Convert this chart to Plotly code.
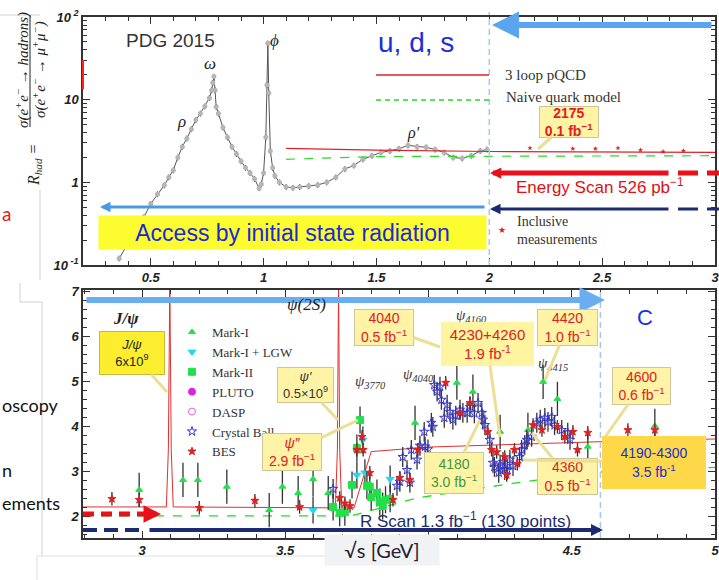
import plotly.graph_objects as go

W, H = 719, 580
SANS = "Liberation Sans, Arial, sans-serif"
SERIF = "Liberation Serif, Times New Roman, serif"
SLIDE = "Lato, Open Sans, sans-serif"

# ---------------- DATA: top panel (light-quark region) ----------------
top_sqrt_s = [0.36, 0.40, 0.44, 0.47, 0.50, 0.53, 0.56, 0.58, 0.60, 0.62, 0.64, 0.66, 0.68, 0.70,
              0.72, 0.74, 0.76, 0.770, 0.775, 0.780, 0.785, 0.79, 0.80, 0.82, 0.84, 0.86, 0.88,
              0.90, 0.92, 0.94, 0.96, 0.98, 0.99, 1.00, 1.010, 1.015, 1.019, 1.023, 1.03, 1.04,
              1.05, 1.07, 1.10, 1.13, 1.16, 1.20, 1.24, 1.28, 1.32, 1.36, 1.40, 1.44, 1.48, 1.52,
              1.56, 1.60, 1.64, 1.68, 1.72, 1.76, 1.80, 1.84, 1.88, 1.92, 1.96, 1.99]
top_R = [0.12, 0.18, 0.28, 0.38, 0.55, 0.72, 0.92, 1.15, 1.4, 2.0, 2.7, 3.4, 4.4, 5.7,
         6.8, 8.3, 10.5, 13, 16, 19, 13, 8.2, 6.8, 4.6, 3.5, 2.7, 2.2,
         1.8, 1.5, 1.3, 1.1, 0.85, 0.95, 1.3, 3.5, 15, 48, 12, 2.4, 1.5,
         1.2, 1.0, 0.88, 0.86, 0.88, 0.90, 0.93, 1.0, 1.15, 1.45, 1.6, 1.9, 2.1, 2.3,
         2.4, 2.55, 2.8, 2.7, 2.65, 2.5, 2.3, 2.0, 1.95, 2.1, 2.4, 2.5]

pqcd_sqrt_s = [1.1, 1.5, 2.0, 2.5, 3.0]
pqcd_R = [2.57, 2.45, 2.36, 2.33, 2.30]
naive_sqrt_s = [1.1, 1.5, 3.0]
naive_R = [1.90, 2.05, 2.10]
incl_sqrt_s = [2.18, 2.37, 2.47, 2.57, 2.67, 2.77, 2.86]
incl_R = [2.60, 2.55, 2.55, 2.60, 2.45, 2.35, 2.40]

# ---------------- DATA: bottom panel (charm region) ----------------
theory_sqrt_s = [2.794, 3.085, 3.092, 3.097, 3.102, 3.109, 3.675, 3.682, 3.686, 3.690, 3.697,
                 3.74, 3.80, 4.0, 4.6, 5.0]
theory_R = [2.22, 2.22, 3.5, 7.2, 3.5, 2.22, 2.20, 3.5, 7.2, 3.5, 2.20,
            2.20, 3.45, 3.55, 3.67, 3.73]
naiveb_sqrt_s = [2.794, 3.73, 3.96, 4.3, 4.6, 5.0]
naiveb_R = [2.02, 2.02, 2.42, 2.75, 3.0, 3.1]

markI_sqrt_s = [2.99, 3.143, 3.195, 3.296, 3.444, 3.49, 3.545, 3.597, 3.65, 3.953, 4.099,
                4.155, 4.25, 4.347, 4.40, 4.45, 4.556, 4.79]
markI_R = [2.60, 2.82, 2.82, 2.67, 2.15, 2.67, 2.53, 2.84, 2.53, 4.09, 4.98,
           4.78, 3.89, 3.93, 5.00, 4.62, 3.56, 4.02]
lgw_sqrt_s = [3.597, 3.750, 3.771, 3.778, 3.866]
lgw_R = [2.15, 2.93, 3.71, 2.98, 2.84]
markII_sqrt_s = [3.667, 3.69, 3.708, 3.733, 3.75, 3.761, 3.785, 3.795, 3.80, 3.82, 3.83,
                 3.84, 3.85, 3.866]
markII_R = [2.22, 2.09, 2.10, 2.71, 3.53, 4.15, 2.69, 2.67, 2.44, 2.53, 2.33,
            2.24, 2.38, 2.40]
pluto_sqrt_s = [None]   # no PLUTO point is visible in the picture
pluto_R = [None]
dasp_sqrt_s = [None]    # no DASP point is visible in the picture
dasp_R = [None]
cb_sqrt_s = [3.667, 3.89, 3.90, 3.91, 3.925, 3.935, 3.94, 3.96, 3.97, 3.985, 3.988, 3.998,
             4.01, 4.015, 4.02, 4.03, 4.04, 4.045, 4.055, 4.065, 4.075, 4.085, 4.095, 4.11,
             4.12, 4.135, 4.145, 4.16, 4.173, 4.186, 4.19, 4.197, 4.214, 4.225, 4.23, 4.245,
             4.25, 4.26, 4.266, 4.275, 4.284, 4.295, 4.318, 4.325, 4.336, 4.343, 4.36, 4.378,
             4.39, 4.406, 4.417, 4.43, 4.44, 4.465, 4.486, 4.494]
cb_R = [2.62, 2.69, 2.78, 3.33, 3.04, 2.76, 3.49, 3.27, 3.58, 3.89, 3.56, 3.50,
        4.09, 4.00, 4.93, 4.78, 4.89, 4.60, 4.20, 4.49, 4.33, 4.16, 4.25, 4.38,
        4.31, 4.31, 4.44, 4.30, 4.53, 4.31, 4.16, 4.04, 3.71, 3.20, 3.11, 2.98,
        3.16, 3.22, 3.04, 3.05, 3.27, 3.13, 3.33, 3.49, 3.60, 3.71, 3.78, 4.09,
        4.16, 4.20, 4.11, 4.22, 4.04, 3.93, 3.87, 3.71]
bes_sqrt_s = [2.895, 2.99, 3.20, 3.394, 3.55, 3.69, 3.708, 3.726, 3.75, 3.768, 3.772, 3.795,
              3.876, 3.90, 3.935, 3.963, 4.06, 4.11, 4.145, 4.207, 4.22, 4.238, 4.266, 4.273,
              4.30, 4.31, 4.365, 4.396, 4.45, 4.476, 4.504, 4.52, 4.556, 4.696, 4.79]
bes_R = [2.40, 2.38, 2.20, 2.36, 2.22, 2.42, 2.30, 2.24, 3.49, 3.78, 3.49, 2.98,
         2.38, 2.87, 2.82, 3.49, 4.98, 4.31, 4.53, 3.89, 3.49, 3.44, 3.33, 2.93,
         3.49, 3.18, 4.04, 3.93, 4.00, 3.78, 3.89, 3.49, 3.87, 3.93, 3.93]

top_xticks = [0.5, 1, 1.5, 2, 2.5, 3]
top_yticks = [0.1, 1, 10, 100]
top_yticklabels = ["10<sup> -1</sup>", "1", "10", "10<sup> 2</sup>"]
bot_xticks = [3, 3.5, 4, 4.5, 5]

# ---------------- helpers (layout only) ----------------
def px(x):
    return x / W

def py(y):
    return 1 - y / H

annotations = []
shapes = []

def text(x, y, s, size=14, color="#333", family=SANS, xanchor="center", angle=0, style="normal",
         weight="normal"):
    annotations.append(dict(x=px(x), y=py(y), xref="paper", yref="paper", text=s, showarrow=False,
                            xanchor=xanchor, yanchor="middle", textangle=angle,
                            font=dict(family=family, size=size, color=color, style=style,
                                      weight=weight)))

def arrow(hx, hy, tx, ty, color, width, size):
    annotations.append(dict(x=px(hx), y=py(hy), xref="paper", yref="paper", ax=tx - hx, ay=ty - hy,
                            text="", showarrow=True, arrowhead=2, arrowwidth=width, arrowsize=size,
                            arrowcolor=color, standoff=0))

def callout(cx, cy, w, h, tipx, tipy, s, color, bg="#fff3a6", border="#cfc59a", size=14,
            weight="normal"):
    annotations.append(dict(x=px(tipx), y=py(tipy), xref="paper", yref="paper", ax=cx - tipx,
                            ay=cy - tipy, text=s, showarrow=True, arrowhead=0, arrowwidth=3,
                            arrowcolor="#eadf92", bgcolor=bg, bordercolor=border, borderwidth=1,
                            borderpad=0, width=w, height=h, align="center",
                            font=dict(family=SANS, size=size, color=color, weight=weight)))

def pline(x0, y0, x1, y1, color, width=1, dash="solid"):
    shapes.append(dict(type="line", xref="paper", yref="paper", x0=px(x0), y0=py(y0), x1=px(x1),
                       y1=py(y1), line=dict(color=color, width=width, dash=dash)))

# ---------------- figure ----------------
fig = go.Figure()

# top panel
fig.add_trace(go.Scatter(x=top_sqrt_s, y=top_R, mode="lines+markers", xaxis="x", yaxis="y",
                         line=dict(color="#555", width=1),
                         marker=dict(color="#b5b5b5", size=5),
                         error_y=dict(type="percent", value=8, color="#222", thickness=1, width=0),
                         showlegend=False))
fig.add_trace(go.Scatter(x=pqcd_sqrt_s, y=pqcd_R, mode="lines", xaxis="x", yaxis="y",
                         line=dict(color="#e0202a", width=1.2), showlegend=False))
fig.add_trace(go.Scatter(x=naive_sqrt_s, y=naive_R, mode="lines", xaxis="x", yaxis="y",
                         line=dict(color="#22dd22", width=1.2, dash="dash"), showlegend=False))
fig.add_trace(go.Scatter(x=incl_sqrt_s, y=incl_R, mode="markers", xaxis="x", yaxis="y",
                         marker=dict(color="#e02020", size=4, symbol="star"), showlegend=False))

# bottom panel
fig.add_trace(go.Scatter(x=theory_sqrt_s, y=theory_R, mode="lines", xaxis="x2", yaxis="y2",
                         line=dict(color="#e03030", width=1), showlegend=False))
fig.add_trace(go.Scatter(x=naiveb_sqrt_s, y=naiveb_R, mode="lines", xaxis="x2", yaxis="y2",
                         line=dict(color="#22dd22", width=1.3, dash="dash"), showlegend=False))

ebar = dict(type="constant", color="#333", thickness=1.3, width=0)
series = [
    ("Mark-I", markI_sqrt_s, markI_R, "triangle-up", "#22e04a", 6, 0.38),
    ("Mark-I + LGW", lgw_sqrt_s, lgw_R, "triangle-down", "#22d8f0", 7, 0.3),
    ("Mark-II", markII_sqrt_s, markII_R, "square", "#22e04a", 7, 0.3),
    ("PLUTO", pluto_sqrt_s, pluto_R, "circle", "#e020e0", 7, 0.3),
    ("DASP", dasp_sqrt_s, dasp_R, "circle-open", "#e060e0", 7, 0.3),
    ("Crystal Ball", cb_sqrt_s, cb_R, "star-open", "#3434e0", 7, 0.22),
    ("BES", bes_sqrt_s, bes_R, "star", "#e02020", 6, 0.15),
]
for name, xs, ys, sym, col, sz, err in series:
    fig.add_trace(go.Scatter(x=xs, y=ys, mode="markers", name=name, xaxis="x2", yaxis="y2",
                             marker=dict(symbol=sym, color=col, size=sz, line=dict(width=1, color=col)),
                             error_y=dict(ebar, value=err), legend="legend2"))

axfont = dict(family=SANS, size=13, color="#222", weight="bold", style="italic")
common = dict(showline=True, linecolor="#333", linewidth=1.5, mirror="allticks", ticks="inside",
              ticklen=7, tickcolor="#333", showgrid=False, zeroline=False, tickfont=axfont,
              automargin=False, ticklabeloverflow="allow")
xdom = [px(83), px(715)]

fig.update_layout(
    width=W, height=H, margin=dict(l=0, r=0, t=0, b=0, pad=0, autoexpand=False),
    paper_bgcolor="white", plot_bgcolor="white",
    xaxis=dict(common, domain=xdom, range=[0.2, 3.0], tickmode="array", tickvals=top_xticks,
               anchor="y", minor=dict(ticks="inside", ticklen=4, dtick=0.1, tick0=0, tickcolor="#333")),
    yaxis=dict(common, domain=[py(265), py(17)], type="log", range=[-1, 2], tickmode="array",
               tickvals=top_yticks, ticktext=top_yticklabels, anchor="x",
               minor=dict(ticks="inside", ticklen=4, dtick="D1", tickcolor="#333")),
    xaxis2=dict(common, domain=xdom, range=[2.794, 5.0], tickmode="array", tickvals=bot_xticks,
                anchor="y2",
                minor=dict(ticks="inside", ticklen=4, dtick=0.1, tick0=0, tickcolor="#333")),
    yaxis2=dict(common, domain=[py(538), py(290)], range=[1.53, 7.04], dtick=1, tick0=0,
                anchor="x2", minor=dict(ticks="inside", ticklen=4, dtick=0.2, tick0=0,
                                        tickcolor="#333")),
    legend2=dict(x=px(172), y=py(317), xanchor="left", yanchor="top", bgcolor="rgba(0,0,0,0)",
                 font=dict(family=SERIF, size=13, color="#333"), tracegroupgap=0),
    showlegend=True,
)

# ---- slide decorations ----
pline(0, 15, 40, 15, "#d0d0d0")
pline(40, 190, 40, 280, "#d0d0d0")
pline(20, 283, 20, 302, "#d0d0d0")
pline(20, 302, 42, 302, "#d0d0d0")
pline(42, 302, 42, 556, "#d0d0d0")
pline(37, 556, 330, 556, "#e0e0e0")
pline(37, 556, 37, 580, "#e0e0e0")
pline(83, 60, 83, 89, "#ff2020", 2)

# vertical blue dashed separators
shapes.append(dict(type="line", xref="x", yref="paper", x0=2.0, x1=2.0, y0=py(265), y1=py(12),
                   line=dict(color="#a6c8f0", width=1.5, dash="6px,4px")))
shapes.append(dict(type="line", xref="x2", yref="paper", x0=4.6, x1=4.6, y0=py(538), y1=py(290),
                   line=dict(color="#a6c8f0", width=1.5, dash="6px,4px")))

# top legend (theory lines)
pline(376, 75, 489, 75, "#e0202a", 1.5)
pline(376, 100, 489, 100, "#22dd22", 1.5, "5px,4px")
text(503, 75, "3 loop pQCD", 15, "#333", SERIF, "left")
text(504, 97, "Naive quark model", 15, "#333", SERIF, "left")

# arrows top
arrow(492, 25, 713, 25, "#5aa5f0", 6, 0.9)
arrow(490, 173, 670, 173, "#e8101a", 5, 0.45)
pline(678, 173, 719, 173, "#e8101a", 5, "20px,9px")
arrow(490, 209, 670, 209, "#1c2a70", 3, 0.7)
pline(678, 209, 719, 209, "#1c2a70", 3, "20px,9px")
arrow(100, 207, 486, 207, "#4a98e8", 3, 0.7)

# arrows bottom
arrow(605, 300, 85, 300, "#6aaef2", 6, 0.85)
pline(83, 514, 145, 514, "#e8101a", 5, "11px,7px")
arrow(161, 514, 148, 514, "#e8101a", 5, 0.7)
pline(83, 530, 142, 530, "#1c2a70", 4, "14px,7px")
arrow(603, 530, 148, 530, "#1c2a70", 4, 0.6)

# texts top
text(170, 40, "PDG 2015", 19, "#333", SANS)
text(416, 43, "u, d, s", 28, "#2030d8", SANS)
text(182, 122, "ρ", 17, "#222", SERIF, style="italic")
text(210, 63, "ω", 17, "#222", SERIF, style="italic")
text(274, 40, "ϕ", 17, "#222", SERIF, style="italic")
text(414, 133, "ρ′", 16, "#222", SERIF, style="italic")
text(600, 186, "Energy Scan 526 pb<sup>−1</sup>", 17, "#e01010", SANS)
text(502, 230, "★", 9, "#e02020", SANS)
text(515, 221, "Inclusive", 14, "#333", SERIF, "left")
text(515, 240, "measurements", 14, "#333", SERIF, "left")
annotations.append(dict(x=px(292), y=py(232), xref="paper", yref="paper", showarrow=False,
                        text="Access by initial state radiation", bgcolor="#fcfc2e", width=385,
                        height=31, font=dict(family=SANS, size=23, color="#1a2ad8")))
callout(569, 122, 58, 30, 538, 149, "2175<br>0.1 fb<sup>−1</sup>", "#e02020", size=14,
        weight="bold")

# y-axis title of top panel (fraction)
text(22, 70, "σ(e<sup>+</sup>e<sup>−</sup> → hadrons)", 15, "#222", SERIF, angle=-90,
     style="italic")
pline(30, 15, 30, 127, "#222", 1)
text(39, 70, "σ(e<sup>+</sup>e<sup>−</sup> → μ<sup>+</sup>μ<sup>−</sup>)", 15, "#222", SERIF,
     angle=-90, style="italic")
text(34, 165, "R<sub>had</sub> =", 16, "#222", SERIF, angle=-90, style="italic")

# slide text fragments
text(0, 213, "a", 19, "#e02020", SLIDE, "left")
text(0, 405, "oscopy", 18, "#111", SLIDE, "left")
text(0, 470, "n", 18, "#111", SLIDE, "left")
text(0, 503, "ements", 18, "#111", SLIDE, "left")

# texts bottom
text(126, 318, "J/ψ", 17, "#222", SERIF, style="italic", weight="bold")
text(306, 304, "ψ(2S)", 17, "#222", SERIF, style="italic")
text(370, 382, "ψ<sub>3770</sub>", 15, "#333", SERIF, style="italic")
text(418, 375, "ψ<sub>4040</sub>", 15, "#333", SERIF, style="italic")
text(471, 316, "ψ<sub>4160</sub>", 15, "#333", SERIF, style="italic")
text(553, 364, "ψ<sub>4415</sub>", 15, "#333", SERIF, style="italic")
text(645, 317, "C", 22, "#2030d8", SANS)
text(465, 520, "R Scan 1.3 fb<sup>−1</sup> (130 points)", 17, "#1c2a70", SANS)
annotations.append(dict(x=px(382), y=py(566), xref="paper", yref="paper", showarrow=False,
                        text="√s [GeV]", bgcolor="#f1f2f4", width=112, height=28,
                        font=dict(family=SLIDE, size=20, color="#223")))

callout(132, 353, 64, 42, 167, 392, "<i>J/ψ</i><br>6x10<sup>9</sup>", "#222", bg="#fcee2e",
        border="#c8b840", size=13)
callout(305, 385, 55, 34, 338, 420, "<i>ψ′</i><br>0.5×10<sup>9</sup>", "#333", size=13)
callout(292, 452, 58, 36, 358, 420, "<i>ψ″</i><br>2.9 fb<sup>−1</sup>", "#e02020", size=14)
callout(384, 327, 58, 35, 440, 347, "4040<br>0.5 fb<sup>−1</sup>", "#e02020")
callout(487, 344, 91, 42, 500, 437, "4230+4260<br>1.9 fb<sup>-1</sup>", "#e02020",
        bg="#fff5a0", border="#fff5a0", size=15)
callout(567, 327, 59, 35, 545, 380, "4420<br>1.0 fb<sup>−1</sup>", "#e02020")
callout(641, 386, 57, 36, 603, 440, "4600<br>0.6 fb<sup>−1</sup>", "#e02020")
callout(454, 473, 58, 40, 480, 420, "4180<br>3.0 fb<sup>−1</sup>", "#3a9a3a")
callout(567, 476, 59, 35, 532, 433, "4360<br>0.5 fb<sup>−1</sup>", "#e02020")
callout(654, 462, 102, 51, 523, 460, "4190-4300<br>3.5 fb<sup>-1</sup>", "#2030c8",
        bg="#ffd84a", border="#ffd84a", size=14)

fig.update_layout(annotations=annotations, shapes=shapes)
fig.write_html("out.html", config={"displayModeBar": False},
               post_script="document.body.style.margin='0';")
